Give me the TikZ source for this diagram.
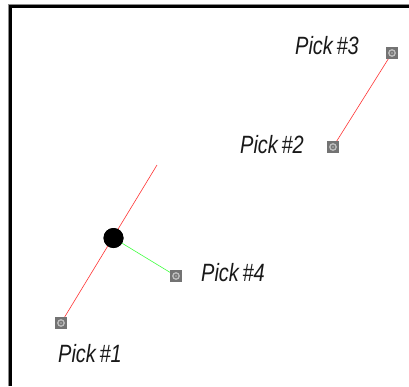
\documentclass[tikz,border=0pt]{standalone}
\usepackage{fontspec}
\setmainfont[FakeStretch=0.8]{Liberation Sans}
\begin{document}
\begin{tikzpicture}[x=1pt,y=-1pt,
  pick/.style={draw=none,fill=black!55,minimum size=12pt,inner sep=0pt,
    path picture={\draw[white!75!black,line width=1.3pt] (path picture bounding box.center) circle (3.2pt);
      \fill[black!40] (path picture bounding box.center) circle (1.3pt);}},
  lbl/.style={font=\fontsize{25}{25}\selectfont\itshape,inner sep=0pt,text=black!90},
  redline/.style={draw=red!80!white,line width=0.6pt},
  greenline/.style={draw=green!75!white,line width=0.6pt}]
\useasboundingbox (0,0) rectangle (409,386);
\fill[white] (0,0) rectangle (409,386);
% frame
\draw[black!45,line width=1pt] (8.5,386) -- (8.5,4.5) -- (409,4.5);
\draw[black,line width=3pt] (10.5,386) -- (10.5,6.5) -- (409,6.5);
% markers
\node[pick] (p1) at (61,323) {};
\node[pick] (p2) at (333,147) {};
\node[pick] (p3) at (392,53) {};
\node[pick] (p4) at (176,276) {};
\coordinate (e1) at (157,165);
\node[circle,fill=black,minimum size=20pt,inner sep=0pt] (dot) at (113.5,238) {};
% lines
\draw[redline] (p1.center) -- (e1);
\draw[redline] (p2.center) -- (p3.center);
\draw[greenline] (dot.center) -- (p4.center);
\node[circle,fill=black,minimum size=20pt,inner sep=0pt] at (dot) {};
\node[pick] at (p1) {};
\node[pick] at (p2) {};
\node[pick] at (p3) {};
\node[pick] at (p4) {};
% labels
\node[lbl] (l3) at (327,46) {Pick\hspace{-2pt} \#3};
\node[lbl] (l2) at (272,145) {Pick\hspace{-2pt} \#2};
\node[lbl] (l4) at (233,273) {Pick\hspace{-2pt} \#4};
\node[lbl] (l1) at (90,354) {Pick\hspace{-2pt} \#1};
\end{tikzpicture}
\end{document}
